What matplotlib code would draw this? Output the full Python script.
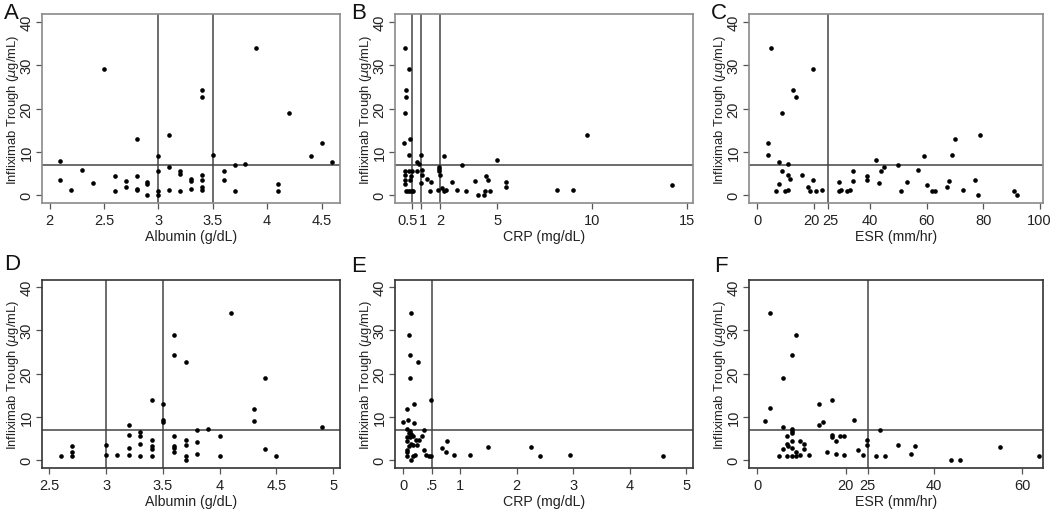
import matplotlib
matplotlib.use("Agg")
import matplotlib.pyplot as plt
from matplotlib.transforms import ScaledTranslation

plt.rcParams['font.family'] = ['Liberation Sans', 'DejaVu Sans']
plt.rcParams['mathtext.fontset'] = 'dejavusans'

# ---------------- data ----------------
# Panel A: Albumin vs trough
a_x = [2.1, 2.1, 2.2, 2.3, 2.4, 2.5, 2.6, 2.6, 2.7, 2.7, 2.8, 2.8, 2.8, 2.8, 2.9, 2.9, 2.9,
       3.0, 3.0, 3.0, 3.0, 3.1, 3.1, 3.1, 3.2, 3.2, 3.2, 3.3, 3.3, 3.3, 3.4, 3.4, 3.4, 3.4,
       3.4, 3.4, 3.5, 3.6, 3.6, 3.7, 3.7, 3.8, 3.9, 4.1, 4.1, 4.2, 4.4, 4.5, 4.6]
a_y = [8.0, 3.5, 1.2, 5.8, 2.8, 29.0, 4.5, 1.0, 3.3, 1.8, 13.0, 4.4, 1.5, 1.1, 3.0, 2.5, 0.0,
       9.0, 5.5, 1.0, 0.0, 14.0, 6.6, 1.3, 5.5, 4.8, 1.0, 3.8, 3.2, 1.4, 24.3, 22.7, 4.7, 3.5,
       2.0, 1.3, 9.3, 5.5, 3.5, 7.0, 1.0, 7.2, 34.0, 2.5, 1.0, 19.0, 9.1, 12.0, 7.7]

# Panel B: CRP vs trough
b_x = [0.16, 0.37, 0.19, 0.21, 0.16, 0.40, 0.10, 0.35, 0.13, 0.35, 0.49, 0.13, 0.44, 0.13,
       0.40, 0.13, 0.19, 0.32, 0.40, 0.49, 0.58, 0.75, 0.86, 0.75, 1.04, 1.04, 1.00, 0.98,
       1.28, 1.53, 1.46, 1.95, 1.93, 1.93, 2.00, 1.85, 2.20, 2.10, 2.20, 2.30, 2.60, 2.90,
       3.16, 3.35, 3.83, 4.00, 4.40, 4.50, 4.35, 4.30, 4.60, 4.98, 5.44, 5.44, 8.16, 9.00,
       9.74, 14.2]
b_y = [33.9, 29.0, 24.3, 22.7, 19.0, 13.0, 12.0, 9.2, 5.5, 5.5, 5.5, 4.6, 4.5, 3.5, 3.5,
       2.5, 1.0, 1.0, 1.0, 1.0, 0.9, 7.7, 7.2, 5.5, 5.8, 4.6, 9.2, 2.8, 3.7, 3.1, 1.0, 6.6,
       6.0, 5.5, 4.6, 1.3, 9.0, 1.6, 1.0, 1.2, 3.1, 1.2, 7.0, 1.0, 3.2, 0.0, 4.5, 3.5, 1.0,
       0.0, 1.0, 8.1, 3.1, 1.8, 1.2, 1.2, 14.0, 2.4]

# Panel C: ESR vs trough
c_x = [4.7, 19.8, 12.8, 13.6, 8.6, 3.7, 3.7, 7.7, 10.7, 8.8, 10.7, 11.7, 7.7, 6.7, 9.8,
       10.7, 15.7, 17.8, 18.8, 19.8, 20.8, 22.8, 28.9, 28.9, 29.8, 31.8, 32.9, 33.8, 33.8,
       38.8, 38.8, 41.9, 43.0, 43.9, 44.9, 49.9, 50.9, 52.9, 56.9, 58.9, 60.0, 62.0, 63.0,
       67.1, 68.0, 69.0, 70.0, 73.0, 79.0, 77.0, 78.0, 91.0, 92.0]
c_y = [33.9, 29.0, 24.3, 22.7, 19.0, 12.0, 9.2, 7.7, 7.2, 5.5, 4.7, 3.7, 2.5, 1.0, 1.0,
       1.2, 4.7, 1.8, 1.0, 3.6, 1.0, 1.2, 3.0, 0.9, 1.2, 0.9, 1.3, 5.5, 3.3, 4.4, 3.5, 8.1,
       2.8, 5.5, 6.5, 7.0, 0.9, 3.1, 5.7, 9.0, 2.4, 1.0, 0.9, 1.8, 3.3, 9.2, 13.0, 1.2, 14.0,
       3.5, 0.0, 1.0, 0.0]

# Panel D: Albumin vs trough
d_x = [2.6, 2.7, 2.7, 2.7, 3.0, 3.0, 3.1, 3.2, 3.2, 3.2, 3.2, 3.3, 3.3, 3.3, 3.3, 3.4, 3.4,
       3.4, 3.4, 3.4, 3.5, 3.5, 3.5, 3.6, 3.6, 3.6, 3.6, 3.6, 3.6, 3.7, 3.7, 3.7, 3.7, 3.7,
       3.8, 3.8, 3.8, 3.9, 4.0, 4.0, 4.1, 4.3, 4.3, 4.4, 4.4, 4.5, 4.9]
d_y = [0.9, 3.3, 1.9, 0.9, 3.5, 1.2, 1.2, 8.1, 5.8, 2.8, 1.3, 6.5, 5.5, 3.8, 0.9, 13.9, 4.6,
       3.2, 2.6, 0.9, 12.9, 9.2, 8.9, 29.0, 24.2, 5.5, 3.3, 2.8, 1.8, 22.7, 4.6, 3.5, 0.9,
       0.0, 7.0, 4.3, 1.4, 7.2, 5.5, 0.9, 33.9, 11.9, 9.0, 18.9, 2.5, 0.9, 7.7]

# Panel E: CRP vs trough
e_x = [0.13, 0.09, 0.11, 0.25, 0.12, 0.19, 0.48, 0.07, 0.00, 0.08, 0.19, 0.07, 0.11, 0.09,
       0.13, 0.37, 0.17, 0.06, 0.11, 0.22, 0.28, 0.32, 0.07, 0.13, 0.17, 0.24, 0.10, 0.06,
       0.06, 0.37, 0.06, 0.17, 0.21, 0.13, 0.39, 0.45, 0.48, 0.69, 0.77, 0.76, 0.90, 1.17,
       1.49, 2.26, 2.41, 2.94, 4.59]
e_y = [33.9, 29.0, 24.2, 22.7, 18.9, 13.0, 13.9, 11.9, 8.9, 9.2, 8.5, 7.2, 6.7, 6.2, 6.1,
       7.0, 5.6, 5.4, 5.3, 4.7, 4.7, 5.6, 4.5, 3.8, 3.5, 3.6, 3.3, 2.4, 1.8, 2.4, 0.9, 0.9,
       1.3, 0.0, 1.2, 0.9, 0.9, 2.8, 4.4, 1.8, 1.2, 1.3, 3.0, 3.0, 0.9, 1.2, 0.9]

# Panel F: ESR vs trough
f_x = [2.8, 8.75, 7.8, 5.8, 2.8, 1.8, 13.9, 16.8, 13.9, 14.9, 21.9, 5.8, 7.8, 7.8, 7.8,
       27.8, 6.8, 7.8, 6.8, 6.9, 5.8, 7.8, 9.7, 10.6, 10.6, 8.8, 4.8, 6.8, 7.8, 8.8, 9.7,
       11.8, 16.8, 16.9, 18.8, 19.7, 17.8, 15.8, 17.8, 19.7, 22.9, 23.9, 24.9, 24.9, 26.9,
       28.8, 31.8, 35.8, 34.9, 43.9, 45.9, 54.9, 63.9]
f_y = [33.9, 29.0, 24.2, 18.9, 12.0, 9.0, 12.9, 13.9, 8.1, 8.9, 9.2, 7.6, 7.2, 6.7, 6.3,
       7.0, 5.5, 4.5, 3.8, 3.3, 2.5, 2.9, 4.4, 3.7, 2.7, 1.8, 1.0, 1.0, 1.0, 1.0, 1.2, 1.2,
       5.8, 5.4, 5.5, 5.5, 4.4, 1.8, 1.4, 1.2, 2.4, 1.2, 4.6, 3.5, 0.9, 0.9, 3.5, 3.2, 1.4,
       0.0, 0.0, 3.0, 0.9]

trough_cut = 7

y_ticks = [0, 10, 20, 30, 40]
ylabel = r"Infliximab Trough ($\mu$g/mL)"

panels = [
    dict(letter="A", x=a_x, y=a_y, xlabel="Albumin (g/dL)", vlines=[3, 3.5],
         xticks=[2, 2.5, 3, 3.5, 4, 4.5], xticklabels=["2", "2.5", "3", "3.5", "4", "4.5"],
         xlim=(1.93, 4.67), ylim=(-1.8, 41.8), nudge={}),
    dict(letter="B", x=b_x, y=b_y, xlabel="CRP (mg/dL)", vlines=[0.5, 1, 2],
         xticks=[0.5, 1, 2, 5, 10, 15], xticklabels=["0.5", "1", "2", "5", "10", "15"],
         xlim=(-0.39, 15.3), ylim=(-1.8, 41.8), nudge={0: -3, 1: 1}),
    dict(letter="C", x=c_x, y=c_y, xlabel="ESR (mm/hr)", vlines=[25],
         xticks=[0, 20, 25, 40, 60, 80, 100],
         xticklabels=["0", "20", "25", "40", "60", "80", "100"],
         xlim=(-2.96, 101.2), ylim=(-1.8, 41.8), nudge={1: -1.5, 2: 1.5}),
    dict(letter="D", x=d_x, y=d_y, xlabel="Albumin (g/dL)", vlines=[3, 3.5],
         xticks=[2.5, 3, 3.5, 4, 4.5, 5], xticklabels=["2.5", "3", "3.5", "4", "4.5", "5"],
         xlim=(2.435, 5.06), ylim=(-1.8, 41.6), nudge={}),
    dict(letter="E", x=e_x, y=e_y, xlabel="CRP (mg/dL)", vlines=[0.5],
         xticks=[0, 0.5, 1, 2, 3, 4, 5], xticklabels=["0", ".5", "1", "2", "3", "4", "5"],
         xlim=(-0.15, 5.12), ylim=(-1.8, 41.6), nudge={}),
    dict(letter="F", x=f_x, y=f_y, xlabel="ESR (mm/hr)", vlines=[25],
         xticks=[0, 20, 25, 40, 60], xticklabels=["0", "20", "25", "40", "60"],
         xlim=(-1.9, 64.7), ylim=(-1.8, 41.6), nudge={}),
]

W, H = 1050, 510
fig = plt.figure(figsize=(W / 100, H / 100), dpi=100)

# axes boxes in pixels: (left, top, right, bottom)
boxes = [
    (42, 15, 340, 204), (395, 15, 693, 204), (749, 15, 1043, 204),
    (42, 281, 340, 469), (395, 281, 693, 469), (749, 281, 1043, 469),
]
letter_pos = [(4, 3), (351, 3), (711, 3), (4, 254), (351, 256), (714, 256)]

for i, (p, box) in enumerate(zip(panels, boxes)):
    l, t, r, b = box
    wpx, hpx = r - l, b - t
    ax = fig.add_axes([l / W, 1 - b / H, wpx / W, hpx / H])
    frame_col = "#8a8a8a" if i < 3 else "#333333"
    for s in ax.spines.values():
        s.set_color(frame_col)
        s.set_linewidth(1.2)
    ax.scatter(p["x"], p["y"], s=11, color="black", zorder=3, linewidths=0)
    for v in p["vlines"]:
        ax.axvline(v, color="#444444", lw=1.1, zorder=2)
    ax.axhline(trough_cut, color="#444444", lw=1.1, zorder=2)
    ax.set_xlim(*p["xlim"])
    ax.set_ylim(*p["ylim"])
    ax.set_xticks(p["xticks"])
    ax.set_xticklabels(p["xticklabels"])
    ax.set_yticks(y_ticks)
    ax.set_yticklabels([str(v) for v in y_ticks], rotation=90, va="center")
    ax.tick_params(axis="both", direction="out", length=4, width=0.9,
                   color="#555555", labelsize=10.5, labelcolor="#222222")
    ax.tick_params(axis="x", pad=3.5)
    ax.tick_params(axis="y", pad=2)
    for k, dx in p["nudge"].items():
        lab = ax.get_xticklabels()[k]
        lab.set_transform(lab.get_transform() + ScaledTranslation(dx / 72, 0, fig.dpi_scale_trans))
    ax.set_xlabel(p["xlabel"], fontsize=10.2, color="#222222")
    ax.xaxis.set_label_coords(0.5, -33 / hpx, transform=ax.transAxes)
    ax.xaxis.label.set_va("center")
    ax.set_ylabel(ylabel, fontsize=9.4, color="#222222")
    ax.yaxis.set_label_coords(-29 / wpx, 0.5, transform=ax.transAxes)
    ax.yaxis.label.set_va("center")
    lx, ly = letter_pos[i]
    fig.text(lx / W, 1 - ly / H, p["letter"], fontsize=16, va="top", ha="left",
             color="#111111")

fig.savefig("out.png", dpi=100)
